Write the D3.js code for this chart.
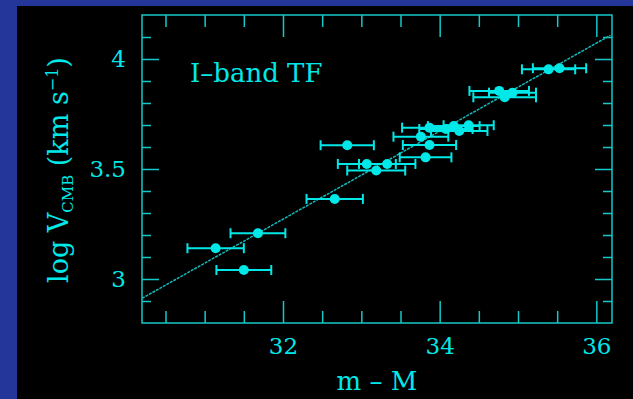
<!DOCTYPE html>
<html>
<head>
<meta charset="utf-8">
<script src="https://cdn.jsdelivr.net/npm/d3@7"></script>
<style>
  body { margin: 0; background: #25369a; }
  svg { display: block; }
</style>
</head>
<body>
<div id="chart"></div>
<script>
// distance modulus (m - M), log V_CMB and the error in m - M
var mM = [31.14, 31.50, 31.68, 32.66, 32.82, 33.07, 33.19, 33.33, 33.76, 33.87, 33.82,
          33.87, 34.08, 34.18, 34.25, 34.37, 34.76, 34.83, 34.93, 35.39, 35.53];
var logV = [3.140, 3.041, 3.208, 3.364, 3.608, 3.523, 3.493, 3.523, 3.647, 3.609, 3.553,
            3.688, 3.682, 3.695, 3.673, 3.699, 3.855, 3.826, 3.847, 3.953, 3.958];
var mMerr = [0.36, 0.35, 0.35, 0.36, 0.34, 0.37, 0.37, 0.36, 0.35, 0.34, 0.33,
             0.35, 0.34, 0.33, 0.36, 0.32, 0.38, 0.40, 0.30, 0.34, 0.34];

// fitted TF line: log V = slope * (m - M) + zero
var fitSlope = 0.2;
var fitZero = -3.128;

var xMajor = [32, 34, 36];
var xMinor = [30.5, 31, 31.5, 32.5, 33, 33.5, 34.5, 35, 35.5];
var yMajor = [3, 3.5, 4];
var yMinor = [2.9, 3.1, 3.2, 3.3, 3.4, 3.6, 3.7, 3.8, 3.9, 4.1];

var w = 633;
var h = 399;
var padL = 142, padR = 612, padT = 15, padB = 323;
var cyan = '#00e8e8';
var axisCol = '#16c8c8';
var font = '"DejaVu Serif", serif';

var svg = d3.select('#chart')
    .append('svg')
    .attr('width', w)
    .attr('height', h);

// blue frame and black panel
svg.append('rect').attr('width', w).attr('height', h).attr('fill', '#25369a');
svg.append('rect').attr('x', 17).attr('y', 6).attr('width', w - 17).attr('height', h - 6).attr('fill', '#000');

var x = d3.scaleLinear().domain([30.2, 36.2]).range([padL, padR]);
var y = d3.scaleLinear().domain([2.8, 4.2]).range([padB, padT]);

function styleAxis(g) {
    g.select('.domain').remove();
    g.selectAll('line').attr('stroke', axisCol).attr('stroke-width', 1.5);
    g.selectAll('text')
        .attr('fill', cyan)
        .style('font-family', font)
        .style('font-size', '23px');
}

// bottom and top axes
svg.append('g').attr('transform', 'translate(0,' + padB + ')')
    .call(d3.axisBottom(x).tickValues(xMinor).tickSize(-12).tickFormat(''))
    .call(styleAxis);
svg.append('g').attr('transform', 'translate(0,' + padB + ')')
    .call(d3.axisBottom(x).tickValues(xMajor).tickSize(-22).tickPadding(15).tickFormat(d3.format('d')))
    .call(styleAxis);
svg.append('g').attr('transform', 'translate(0,' + padT + ')')
    .call(d3.axisTop(x).tickValues(xMinor).tickSize(-12).tickFormat(''))
    .call(styleAxis);
svg.append('g').attr('transform', 'translate(0,' + padT + ')')
    .call(d3.axisTop(x).tickValues(xMajor).tickSize(-22).tickFormat(''))
    .call(styleAxis);

// left and right axes
svg.append('g').attr('transform', 'translate(' + padL + ',0)')
    .call(d3.axisLeft(y).tickValues(yMinor).tickSize(-9).tickFormat(''))
    .call(styleAxis);
svg.append('g').attr('transform', 'translate(' + padL + ',0)')
    .call(d3.axisLeft(y).tickValues(yMajor).tickSize(-17).tickPadding(16).tickFormat(d3.format('')))
    .call(styleAxis);
svg.append('g').attr('transform', 'translate(' + padR + ',0)')
    .call(d3.axisRight(y).tickValues(yMinor).tickSize(-9).tickFormat(''))
    .call(styleAxis);
svg.append('g').attr('transform', 'translate(' + padR + ',0)')
    .call(d3.axisRight(y).tickValues(yMajor).tickSize(-17).tickFormat(''))
    .call(styleAxis);

svg.append('rect')
    .attr('x', padL).attr('y', padT)
    .attr('width', padR - padL).attr('height', padB - padT)
    .attr('fill', 'none')
    .attr('stroke', axisCol)
    .attr('stroke-width', 1.5);

// fit line
var x0 = 30.2, x1 = 36.18;
svg.append('line')
    .attr('x1', x(x0)).attr('y1', y(fitSlope * x0 + fitZero))
    .attr('x2', x(x1)).attr('y2', y(fitSlope * x1 + fitZero))
    .attr('stroke', '#14b8b8')
    .attr('stroke-width', 1.5)
    .attr('stroke-dasharray', '3,1');

var pts = d3.range(mM.length);

// error bars
var eb = svg.append('g')
    .attr('stroke', cyan)
    .attr('stroke-width', 2);
eb.selectAll('line.bar').data(pts).enter().append('line')
    .attr('class', 'bar')
    .attr('x1', function(i) { return x(mM[i] - mMerr[i]); })
    .attr('x2', function(i) { return x(mM[i] + mMerr[i]); })
    .attr('y1', function(i) { return y(logV[i]); })
    .attr('y2', function(i) { return y(logV[i]); });
eb.selectAll('line.capl').data(pts).enter().append('line')
    .attr('x1', function(i) { return x(mM[i] - mMerr[i]); })
    .attr('x2', function(i) { return x(mM[i] - mMerr[i]); })
    .attr('y1', function(i) { return y(logV[i]) - 5; })
    .attr('y2', function(i) { return y(logV[i]) + 5; });
eb.selectAll('line.capr').data(pts).enter().append('line')
    .attr('x1', function(i) { return x(mM[i] + mMerr[i]); })
    .attr('x2', function(i) { return x(mM[i] + mMerr[i]); })
    .attr('y1', function(i) { return y(logV[i]) - 5; })
    .attr('y2', function(i) { return y(logV[i]) + 5; });

// points
svg.selectAll('circle').data(pts).enter().append('circle')
    .attr('cx', function(i) { return x(mM[i]); })
    .attr('cy', function(i) { return y(logV[i]); })
    .attr('r', 5)
    .attr('fill', cyan);

// texts
svg.append('text')
    .attr('x', 190).attr('y', 82)
    .attr('fill', cyan)
    .style('font-family', font)
    .style('font-size', '26px')
    .text('I\u2013band TF');

svg.append('text')
    .attr('x', 377).attr('y', 390)
    .attr('text-anchor', 'middle')
    .attr('fill', cyan)
    .style('font-family', font)
    .style('font-size', '26px')
    .text('m \u2013 M');

var yl = svg.append('text')
    .attr('transform', 'translate(68,170) rotate(-90)')
    .attr('text-anchor', 'middle')
    .attr('fill', cyan)
    .style('font-family', font)
    .style('font-size', '27px');
yl.append('tspan').text('log V');
yl.append('tspan').attr('dy', 5).style('font-size', '15px').text('CMB');
yl.append('tspan').attr('dy', -5).text(' (km s');
yl.append('tspan').attr('dy', -10).style('font-size', '16px').text('\u22121');
yl.append('tspan').attr('dy', 10).text(')');
</script>
</body>
</html>
